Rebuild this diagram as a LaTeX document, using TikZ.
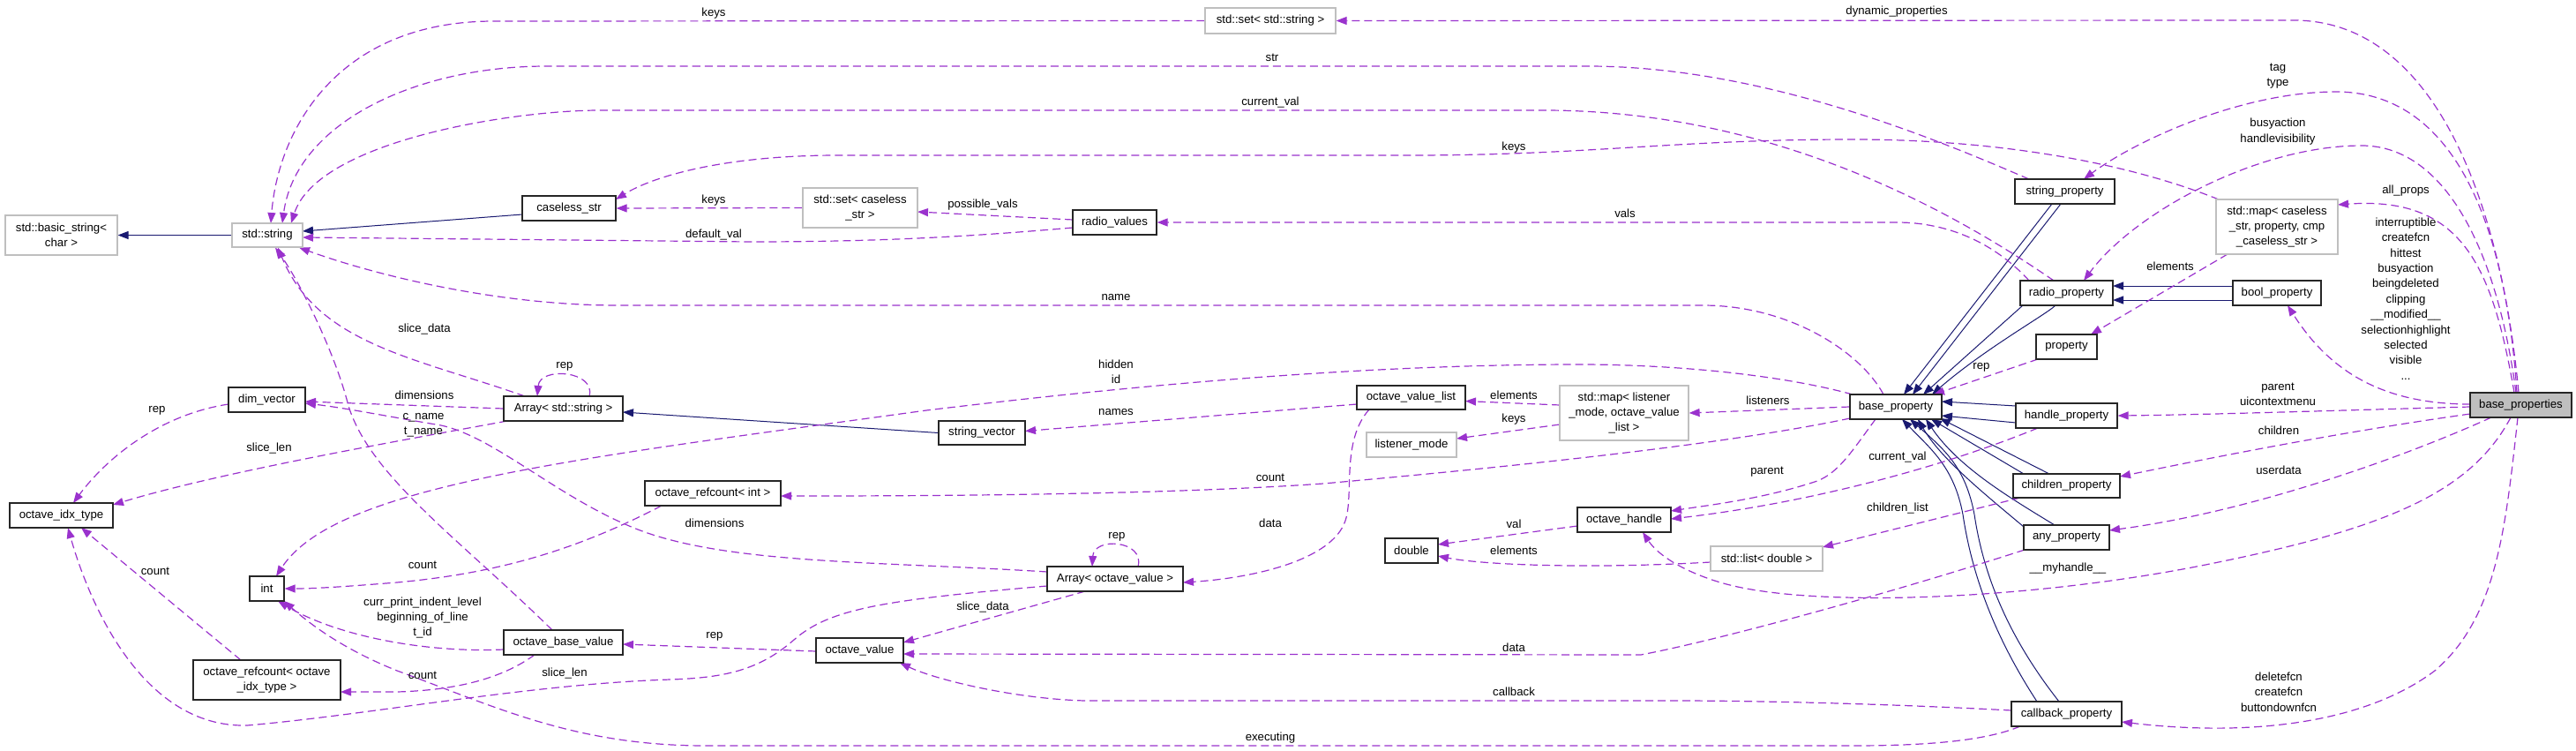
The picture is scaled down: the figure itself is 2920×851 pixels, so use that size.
\documentclass[tikz,border=0pt]{standalone}
\usepackage{fontspec}
\setmainfont{Liberation Sans}
\usetikzlibrary{arrows.meta}
\definecolor{depc}{HTML}{9A32CD}
\definecolor{inhc}{HTML}{191970}
\definecolor{grc}{HTML}{BFBFBF}
\newcommand{\dfont}{\fontsize{13.2}{17.4}\selectfont}
\pgfdeclarelayer{bg}
\pgfsetlayers{bg,main}
\begin{document}
\begin{tikzpicture}[x=1pt,y=-1pt,
  bx/.style={draw=black!85, line width=1.2pt, fill=white, inner sep=0pt, align=center, font=\dfont},
  gbx/.style={bx, draw=grc},
  lb/.style={inner sep=0pt, align=center, font=\dfont},
  dep/.style={draw=depc, line width=1.2pt, dash pattern=on 9pt off 5pt, -{Triangle[length=12pt,width=9pt]}},
  inh/.style={draw=inhc, line width=1pt, -{Triangle[length=12pt,width=9pt]}}]
\useasboundingbox (0,0) rectangle (2920,851);
% ---------------- nodes
\node[gbx,minimum width=127pt,minimum height=45pt] (basic) at (69.5,266.5) {std::basic\_string<\\char >};
\node[gbx,minimum width=80pt,minimum height=27pt] (stdstring) at (303,266.5) {std::string};
\node[bx,minimum width=106pt,minimum height=28pt] (caseless) at (645,236) {caseless\_str};
\node[gbx,minimum width=130pt,minimum height=45pt] (setcaseless) at (975,235.5) {std::set< caseless\\\_str >};
\node[bx,minimum width=95pt,minimum height=28pt] (radiovalues) at (1263.5,252) {radio\_values};
\node[gbx,minimum width=148pt,minimum height=29pt] (setstring) at (1440,23.5) {std::set< std::string >};
\node[bx,minimum width=87pt,minimum height=28pt] (dimvector) at (302.5,453) {dim\_vector};
\node[bx,minimum width=135pt,minimum height=28pt] (arraystr) at (638.5,463) {Array< std::string >};
\node[bx,minimum width=98pt,minimum height=27pt] (stringvector) at (1113,490.5) {string\_vector};
\node[bx,minimum width=117pt,minimum height=28pt] (idx) at (69.5,584) {octave\_idx\_type};
\node[bx,minimum width=39pt,minimum height=28pt] (intn) at (302.5,667) {int};
\node[bx,minimum width=167pt,minimum height=45pt] (refidx) at (302.5,770.5) {octave\_refcount< octave\\\_idx\_type >};
\node[bx,minimum width=154pt,minimum height=28pt] (refint) at (808,559) {octave\_refcount< int >};
\node[bx,minimum width=135pt,minimum height=28pt] (obv) at (638.5,728) {octave\_base\_value};
\node[bx,minimum width=99pt,minimum height=28pt] (ov) at (974.5,737) {octave\_value};
\node[bx,minimum width=154pt,minimum height=28pt] (arrayov) at (1264,656) {Array< octave\_value >};
\node[bx,minimum width=123pt,minimum height=27pt] (ovl) at (1599.5,450.5) {octave\_value\_list};
\node[gbx,minimum width=102pt,minimum height=28pt] (lmode) at (1600,504) {listener\_mode};
\node[gbx,minimum width=146pt,minimum height=62pt] (maplist) at (1841,468) {std::map< listener\\\_mode, octave\_value\\\_list >};
\node[bx,minimum width=60pt,minimum height=28pt] (dbl) at (1600,624) {double};
\node[bx,minimum width=106pt,minimum height=28pt] (ohandle) at (1841,589) {octave\_handle};
\node[gbx,minimum width=127pt,minimum height=28pt] (listdouble) at (2002.5,633) {std::list< double >};
\node[bx,minimum width=104pt,minimum height=28pt] (bprop) at (2149,461) {base\_property};
\node[bx,minimum width=113pt,minimum height=28pt] (strprop) at (2340.5,217) {string\_property};
\node[bx,minimum width=105pt,minimum height=28pt] (radioprop) at (2342.5,332) {radio\_property};
\node[bx,minimum width=69pt,minimum height=28pt] (property) at (2342.5,393) {property};
\node[bx,minimum width=115pt,minimum height=28pt] (handleprop) at (2342.5,471) {handle\_property};
\node[bx,minimum width=121pt,minimum height=27pt] (childprop) at (2342.5,550.5) {children\_property};
\node[bx,minimum width=97pt,minimum height=28pt] (anyprop) at (2342.5,609) {any\_property};
\node[bx,minimum width=125pt,minimum height=28pt] (cbprop) at (2342.5,809) {callback\_property};
\node[gbx,minimum width=138pt,minimum height=62pt] (mapcase) at (2581,257) {std::map< caseless\\\_str, property, cmp\\\_caseless\_str >};
\node[bx,minimum width=100pt,minimum height=28pt] (boolprop) at (2581,332) {bool\_property};
\node[bx,fill=grc,minimum width=115pt,minimum height=28pt] (bprops) at (2857.5,459) {base\_properties};
% ---------------- labels
\node[lb] (l1) at (809,15) {keys};
\node[lb] (l2) at (2150,13) {dynamic\_properties};
\node[lb] (l3) at (1442,65) {str};
\node[lb] (l4) at (1440,116) {current\_val};
\node[lb] (l5) at (1716,167) {keys};
\node[lb] (l6) at (809,227) {keys};
\node[lb] (l7) at (1114,232) {possible\_vals};
\node[lb] (l8) at (809,266) {default\_val};
\node[lb] (l9) at (1842,242) {vals};
\node[lb] (l10) at (1265,337) {name};
\node[lb] (l11) at (1265,421) {hidden\\id};
\node[lb] (l12) at (1265,467) {names};
\node[lb] (l13) at (1716,448) {elements};
\node[lb] (l14) at (1716,475) {keys};
\node[lb] (l15) at (2004,454) {listeners};
\node[lb] (l16) at (1440,541) {count};
\node[lb] (l17) at (2003,535) {parent};
\node[lb] (l18) at (2151,518) {current\_val};
\node[lb] (l19) at (2151,576) {children\_list};
\node[lb] (l20) at (1716,594) {val};
\node[lb] (l21) at (1716,624) {elements};
\node[lb] (l22) at (1440,593) {data};
\node[lb] (l23) at (1266,608) {rep};
\node[lb] (l24) at (1114,688) {slice\_data};
\node[lb] (l25) at (1716,734) {data};
\node[lb] (l26) at (1716,784) {callback};
\node[lb] (l27) at (1440,836) {executing};
\node[lb] (l28) at (2344,644) {\_\_myhandle\_\_};
\node[lb] (l29) at (2582,86) {tag\\type};
\node[lb] (l30) at (2582,149) {busyaction\\handlevisibility};
\node[lb] (l31) at (2727,216) {all\_props};
\node[lb] (l32) at (2727,338.5) {interruptible\\createfcn\\hittest\\busyaction\\beingdeleted\\clipping\\\_\_modified\_\_\\selectionhighlight\\selected\\visible\\...};
\node[lb] (l33) at (2460,302) {elements};
\node[lb] (l34) at (2246,416) {rep};
\node[lb] (l35) at (2582,447) {parent\\uicontextmenu};
\node[lb] (l36) at (2583,487.5) {children};
\node[lb] (l37) at (2583,532.5) {userdata};
\node[lb] (l38) at (2583,784) {deletefcn\\createfcn\\buttondownfcn};
\node[lb] (l39) at (640,415) {rep};
\node[lb] (l40) at (481,373) {slice\_data};
\node[lb] (l41) at (481,448) {dimensions};
\node[lb] (l42) at (480,482) {c\_name\\t\_name};
\node[lb] (l43) at (305,508) {slice\_len};
\node[lb] (l44) at (178,465) {rep};
\node[lb] (l45) at (176,647) {count};
\node[lb] (l46) at (479,640) {count};
\node[lb] (l47) at (479,700) {curr\_print\_indent\_level\\beginning\_of\_line\\t\_id};
\node[lb] (l48) at (479,765) {count};
\node[lb] (l49) at (810,721) {rep};
\node[lb] (l50) at (810,593) {dimensions};
\node[lb] (l51) at (640,763) {slice\_len};
% ---------------- edges
\begin{pgfonlayer}{bg}
% inheritance
\draw[inh] (stdstring.west) -- (basic.east);
\draw[inh] ([shift={(-53,7)}]caseless.center) -- ([shift={(40,-4.5)}]stdstring.center);
\draw[inh] (stringvector.west) -- ([shift={(67.5,4)}]arraystr.center);
\draw[inh] ([shift={(-14.5,14)}]strprop.center) -- ([shift={(9,-14)}]bprop.center);
\draw[inh] ([shift={(-4.5,14)}]strprop.center) -- ([shift={(19,-14)}]bprop.center);
\draw[inh] ([shift={(-49.5,14)}]radioprop.center) -- ([shift={(31,-14)}]bprop.center);
\draw[inh] ([shift={(-12.5,14)}]radioprop.center) .. controls (2320,356) and (2250,395) .. ([shift={(41,-14)}]bprop.center);
\draw[inh] ([shift={(-50,-8)}]boolprop.center) -- ([shift={(52.5,-8)}]radioprop.center);
\draw[inh] ([shift={(-50,8)}]boolprop.center) -- ([shift={(52.5,8)}]radioprop.center);
\draw[inh] ([shift={(-57.5,-11)}]handleprop.center) -- ([shift={(52,-6)}]bprop.center);
\draw[inh] ([shift={(-57.5,8)}]handleprop.center) -- ([shift={(52,10)}]bprop.center);
\draw[inh] ([shift={(-48.5,-13.5)}]childprop.center) -- ([shift={(40,14)}]bprop.center);
\draw[inh] ([shift={(-19.5,-13.5)}]childprop.center) -- ([shift={(50,13)}]bprop.center);
\draw[inh] ([shift={(-48.5,-12)}]anyprop.center) .. controls (2250,560) and (2200,520) .. ([shift={(25,14)}]bprop.center);
\draw[inh] ([shift={(-13.5,-14)}]anyprop.center) .. controls (2280,565) and (2220,530) .. ([shift={(34,14)}]bprop.center);
\draw[inh] ([shift={(-33.5,-14)}]cbprop.center) .. controls (2260,720) and (2235,650) .. (2225,583) .. controls (2215,530) and (2190,510) .. ([shift={(7,14)}]bprop.center);
\draw[inh] ([shift={(-8.5,-14)}]cbprop.center) .. controls (2275,720) and (2248,650) .. (2238,583) .. controls (2228,530) and (2205,510) .. ([shift={(16,14)}]bprop.center);
% usage
\draw[dep] ([shift={(-2.5,-14)}]bprops.center) .. controls (2835,230) and (2760,23) .. (2600,23) -- (setstring.east);
\draw[dep] (setstring.west) -- (560,24) .. controls (380,24) and (315,150) .. ([shift={(4,-13.5)}]stdstring.center);
\draw[dep] ([shift={(-40.5,-14)}]strprop.center) .. controls (2200,160) and (2000,75) .. (1800,75) -- (620,75) .. controls (470,75) and (335,140) .. ([shift={(17,-13.5)}]stdstring.center);
\draw[dep] ([shift={(-14.5,-14)}]radioprop.center) .. controls (2200,230) and (2000,125) .. (1750,125) -- (680,125) .. controls (580,125) and (360,160) .. ([shift={(27,-13.5)}]stdstring.center);
\draw[dep] ([shift={(-66,-31)}]mapcase.center) .. controls (2400,180) and (2250,158) .. (2100,158) .. controls (1900,158) and (1800,176) .. (1600,176) -- (950,176) .. controls (820,176) and (740,200) .. ([shift={(53,-10)}]caseless.center);
\draw[dep] (setcaseless.west) -- (caseless.east);
\draw[dep] ([shift={(-47.5,-3)}]radiovalues.center) -- ([shift={(65,4.5)}]setcaseless.center);
\draw[dep] ([shift={(-47.5,6)}]radiovalues.center) .. controls (1100,268) and (1000,274) .. (850,274) -- ([shift={(40,2.5)}]stdstring.center);
\draw[dep] ([shift={(-42.5,-14)}]radioprop.center) .. controls (2270,285) and (2220,252) .. (2150,252) -- (radiovalues.east);
\draw[dep] ([shift={(-14,-14)}]bprop.center) .. controls (2110,400) and (2030,346) .. (1930,346) -- (700,346) .. controls (560,346) and (420,310) .. ([shift={(36,14)}]stdstring.center);
\draw[dep] ([shift={(-49,-14)}]bprop.center) .. controls (2020,425) and (1900,413) .. (1790,413) .. controls (1550,413) and (1300,435) .. (1050,465) .. controls (650,520) and (380,550) .. ([shift={(10.5,-14)}]intn.center);
\draw[dep] (bprop.west) -- (maplist.east);
\draw[dep] ([shift={(-52,13)}]bprop.center) .. controls (1950,505) and (1700,530) .. (1500,548) .. controls (1300,562) and (1000,562) .. ([shift={(77,3)}]refint.center);
\draw[dep] ([shift={(-23,14)}]bprop.center) .. controls (2100,510) and (2085,535) .. (2060,545) .. controls (2000,565) and (1940,572) .. ([shift={(53,-10)}]ohandle.center);
\draw[dep] ([shift={(-32.5,14)}]handleprop.center) .. controls (2200,530) and (2050,570) .. ([shift={(53,-1)}]ohandle.center);
\draw[dep] ([shift={(-52.5,13.5)}]childprop.center) -- ([shift={(63.5,-13)}]listdouble.center);
\draw[dep] ([shift={(-63.5,4)}]listdouble.center) .. controls (1800,645) and (1680,640) .. ([shift={(30,6)}]dbl.center);
\draw[dep] ([shift={(-53,7)}]ohandle.center) -- ([shift={(30,-7)}]dbl.center);
\draw[dep] ([shift={(-11.5,14)}]bprops.center) .. controls (2800,560) and (2700,600) .. (2500,640) .. controls (2300,680) and (2050,690) .. (1950,660) .. controls (1910,648) and (1880,630) .. ([shift={(21,14)}]ohandle.center);
\draw[dep] ([shift={(-57.5,10)}]bprops.center) .. controls (2650,490) and (2500,520) .. ([shift={(60.5,-10.5)}]childprop.center);
\draw[dep] ([shift={(-33.5,14)}]bprops.center) .. controls (2720,520) and (2550,580) .. ([shift={(48.5,-8)}]anyprop.center);
\draw[dep] ([shift={(-3.5,14)}]bprops.center) .. controls (2840,600) and (2830,700) .. (2760,760) .. controls (2680,820) and (2550,835) .. ([shift={(62.5,9)}]cbprop.center);
\draw[dep] ([shift={(-57.5,2)}]bprops.center) .. controls (2650,465) and (2500,470) .. (handleprop.east);
\draw[dep] ([shift={(-57.5,-1)}]bprops.center) .. controls (2700,458) and (2640,420) .. ([shift={(12,14)}]boolprop.center);
\draw[dep] ([shift={(-7.5,-14)}]bprops.center) .. controls (2825,300) and (2790,222) .. ([shift={(69,-25)}]mapcase.center);
\draw[dep] ([shift={(-5.5,-14)}]bprops.center) .. controls (2830,280) and (2770,165) .. (2677,165) .. controls (2560,165) and (2420,240) .. ([shift={(19.5,-14)}]radioprop.center);
\draw[dep] ([shift={(-4.5,-14)}]bprops.center) .. controls (2840,250) and (2780,104) .. (2648,104) .. controls (2540,104) and (2420,160) .. ([shift={(21.5,-14)}]strprop.center);
\draw[dep] ([shift={(-56,31)}]mapcase.center) -- ([shift={(27.5,-14)}]property.center);
\draw[dep] ([shift={(-32.5,14)}]property.center) -- ([shift={(43,-14)}]bprop.center);
\draw[dep] ([shift={(-73,-9)}]maplist.center) -- ([shift={(61.5,4)}]ovl.center);
\draw[dep] ([shift={(-73,13)}]maplist.center) -- ([shift={(51,-7)}]lmode.center);
\draw[dep] ([shift={(-61.5,7.5)}]ovl.center) -- ([shift={(49,-2)}]stringvector.center);
\draw[dep] ([shift={(-47.5,13.5)}]ovl.center) .. controls (1520,500) and (1535,560) .. (1525,590) .. controls (1510,635) and (1420,655) .. ([shift={(77,4)}]arrayov.center);
\draw[dep] ([shift={(26,-14)}]arrayov.center) .. controls (1298,612) and (1240,608) .. ([shift={(-26,-14)}]arrayov.center);
\draw[dep] ([shift={(29.5,-14)}]arraystr.center) .. controls (676,420) and (612,415) .. ([shift={(-29.5,-14)}]arraystr.center);
\draw[dep] ([shift={(-34,14)}]arrayov.center) -- ([shift={(49.5,-9)}]ov.center);
\draw[dep] ([shift={(-77,-8)}]arrayov.center) .. controls (1000,636) and (820,640) .. (718,598) .. controls (630,562) and (560,495) .. (500,482) .. controls (440,472) and (390,462) .. ([shift={(43.5,4)}]dimvector.center);
\draw[dep] (arraystr.west) -- ([shift={(43.5,2)}]dimvector.center);
\draw[dep] ([shift={(-63.5,14)}]arraystr.center) .. controls (450,500) and (250,535) .. ([shift={(58.5,-12)}]idx.center);
\draw[dep] ([shift={(-43.5,-14)}]arraystr.center) .. controls (470,405) and (360,390) .. ([shift={(12,14)}]stdstring.center);
\draw[dep] ([shift={(-12.5,-14)}]obv.center) .. controls (520,610) and (420,540) .. (395,460) .. controls (380,400) and (340,320) .. ([shift={(9,14)}]stdstring.center);
\draw[dep] ([shift={(-43.5,5)}]dimvector.center) .. controls (180,470) and (120,520) .. ([shift={(13.5,-14)}]idx.center);
\draw[dep] ([shift={(-29.5,-22.5)}]refidx.center) -- ([shift={(22.5,14)}]idx.center);
\draw[dep] ([shift={(-77,8)}]arrayov.center) .. controls (1000,680) and (940,690) .. (900,725) .. controls (860,760) and (820,768) .. (760,770) .. controls (600,775) and (420,810) .. (280,822) .. controls (160,825) and (100,680) .. ([shift={(7.5,14)}]idx.center);
\draw[dep] ([shift={(-58,14)}]refint.center) .. controls (650,625) and (560,650) .. (450,660) .. controls (400,664) and (360,667) .. (intn.east);
\draw[dep] ([shift={(-67.5,8)}]obv.center) .. controls (480,740) and (380,720) .. ([shift={(12.5,14)}]intn.center);
\draw[dep] ([shift={(-52.5,14)}]cbprop.center) .. controls (2250,840) and (2180,845) .. (2100,845) -- (800,845) .. controls (650,845) and (560,800) .. (450,760) .. controls (400,740) and (360,715) .. ([shift={(19.5,14)}]intn.center);
\draw[dep] ([shift={(-62.5,-4)}]cbprop.center) .. controls (2150,798) and (2000,794) .. (1900,794) -- (1230,794) .. controls (1150,792) and (1060,770) .. ([shift={(45.5,14)}]ov.center);
\draw[dep] ([shift={(-47.5,14)}]anyprop.center) .. controls (2150,670) and (1950,725) .. (1860,742) -- ([shift={(49.5,4)}]ov.center);
\draw[dep] ([shift={(-49.5,1)}]ov.center) -- ([shift={(67.5,2)}]obv.center);
\draw[dep] ([shift={(-32.5,14)}]obv.center) .. controls (570,768) and (520,782) .. (450,784) -- ([shift={(83.5,13.5)}]refidx.center);
\end{pgfonlayer}
\end{tikzpicture}
\end{document}
